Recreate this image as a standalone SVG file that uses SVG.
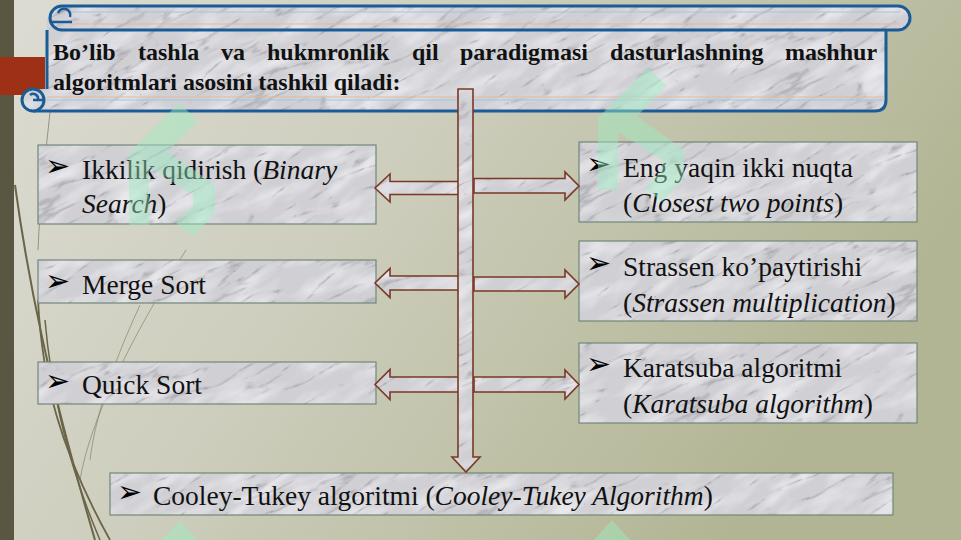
<svg xmlns="http://www.w3.org/2000/svg" width="961" height="540" viewBox="0 0 961 540">
<defs>
<linearGradient id="bg" x1="0" y1="0" x2="1" y2="0.4">
<stop offset="0" stop-color="#dcdcd3"/>
<stop offset="0.45" stop-color="#cdcebd"/>
<stop offset="1" stop-color="#b2b593"/>
</linearGradient>
<filter id="mf" x="0" y="0" width="240" height="240" filterUnits="userSpaceOnUse" color-interpolation-filters="sRGB">
<feTurbulence type="fractalNoise" baseFrequency="0.02 0.06" numOctaves="3" seed="11" stitchTiles="stitch" result="f"/>
<feColorMatrix in="f" type="matrix" values="0 0 0 0 0.97  0 0 0 0 0.97  0 0 0 0 0.98  1.4 0 0 0 -0.55" result="fv"/>
<feComposite in="fv" in2="SourceGraphic" operator="in" result="fvi"/>
<feTurbulence type="turbulence" baseFrequency="0.0125 0.05" numOctaves="4" seed="5" stitchTiles="stitch" result="t"/>
<feColorMatrix in="t" type="matrix" values="0 0 0 0 0.45  0 0 0 0 0.45  0 0 0 0 0.48  -2.6 0 0 0 0.45" result="v"/>
<feComposite in="v" in2="SourceGraphic" operator="in" result="vi"/>
<feMerge><feMergeNode in="SourceGraphic"/><feMergeNode in="fvi"/><feMergeNode in="vi"/></feMerge>
</filter>
<pattern id="marble" patternUnits="userSpaceOnUse" width="240" height="240" patternTransform="rotate(-28)">
<rect width="240" height="240" fill="#cfcfd4" filter="url(#mf)"/>
</pattern>
<g id="logo">
<polygon points="598,118 648,68 667,86 618,135 618,190 598,190"/>
<polygon points="614,100 684,150 684,178 662,202 645,188 662,170 662,160 606,124"/>
</g>
<style>
.box{fill:url(#marble);stroke:#71877a;stroke-width:1.2}
.arr{fill:url(#marble);stroke:#7a3926;stroke-width:1.6;stroke-linejoin:miter}
.t{font-family:"Liberation Serif","Times New Roman",serif;font-size:27.5px;fill:#111}
.i{font-style:italic}
.bul{font-family:"DejaVu Sans",sans-serif;font-size:30px;fill:#000}
.ttl{font-family:"Liberation Serif","Times New Roman",serif;font-size:24px;font-weight:bold;fill:#111}
.deco{fill:none;stroke:#6b6548}
.mint{fill:#9eeec0;opacity:0.45}
</style>
</defs>
<rect width="961" height="540" fill="url(#bg)"/>
<rect x="0" y="0" width="14" height="540" fill="#5b5641"/>
<rect x="0" y="57" width="45" height="38" fill="#9e3115"/>
<g id="decoration">
<path class="deco" stroke-width="2" d="M15,185 C28,280 48,380 95,540"/>
<path class="deco" stroke-width="1.8" d="M38,300 C42,380 60,450 110,540"/>
<path class="deco" stroke-width="1.5" d="M45,320 C52,400 70,470 100,540"/>
<path class="deco" stroke-width="1" opacity="0.6" d="M50,112 C45,160 40,200 38,250"/>
<path class="deco" stroke-width="1" opacity="0.5" d="M186,250 C130,340 90,420 80,480"/>
<path class="deco" stroke-width="1" opacity="0.5" d="M140,305 C110,370 95,420 90,460"/>
</g>
<g id="banner">
<path d="M47,18 H886 V100 Q886,111 875,111 H33 A11,11 0 0 1 22,100 A11,11 0 0 1 33,89 H47 Z" fill="url(#marble)" stroke="none"/>
<path d="M47,30 V89 M886,30 V100 Q886,111 875,111 H33" fill="none" stroke="#1b5c96" stroke-width="3"/>
<circle cx="33" cy="100" r="11" fill="url(#marble)" stroke="#1b5c96" stroke-width="3"/>
<path d="M33,100 H44 M30,95 A5,5 0 0 1 38,100" fill="none" stroke="#1b5c96" stroke-width="2.5"/>
<line x1="47" y1="97" x2="884" y2="97" stroke="#e3b9a2" stroke-width="1.2"/>
<line x1="47" y1="100" x2="884" y2="100" stroke="#9fc6df" stroke-width="1.2"/>
<rect x="50" y="6" width="860" height="24" rx="12" fill="url(#marble)" stroke="#1b5c96" stroke-width="3"/>
<line x1="70" y1="12" x2="900" y2="12" stroke="#9fc6df" stroke-width="1"/>
<line x1="70" y1="24" x2="900" y2="24" stroke="#e3b9a2" stroke-width="1"/>
<path d="M52,22 H72 M58,13 A6,6 0 0 1 70,17" fill="none" stroke="#1b5c96" stroke-width="2.5"/>
<text class="ttl" y="60"><tspan x="53">Bo’lib</tspan><tspan x="138">tashla</tspan><tspan x="221">va</tspan><tspan x="267">hukmronlik</tspan><tspan x="412">qil</tspan><tspan x="460">paradigmasi</tspan><tspan x="610">dasturlashning</tspan><tspan x="785">mashhur</tspan></text>
<text class="ttl" x="53" y="90">algoritmlari asosini tashkil qiladi:</text>
</g>
<g id="node-binary">
<rect class="box" x="38" y="145" width="338" height="79"/>
<text class="bul" x="45" y="176">➢</text>
<text class="t" x="82" y="179">Ikkilik qidirish (<tspan class="i">Binary</tspan></text>
<text class="t" x="82" y="213"><tspan class="i">Search</tspan>)</text>
</g>
<g id="node-merge">
<rect class="box" x="38" y="260" width="338" height="43"/>
<text class="bul" x="45" y="291">➢</text>
<text class="t" x="82" y="294">Merge Sort</text>
</g>
<g id="node-quick">
<rect class="box" x="38" y="362" width="338" height="42"/>
<text class="bul" x="45" y="391">➢</text>
<text class="t" x="82" y="394">Quick Sort</text>
</g>
<g id="node-closest">
<rect class="box" x="579" y="142" width="338" height="80"/>
<text class="bul" x="586" y="174">➢</text>
<text class="t" x="623" y="177">Eng yaqin ikki nuqta</text>
<text class="t" x="623" y="212">(<tspan class="i">Closest two points</tspan>)</text>
</g>
<g id="node-strassen">
<rect class="box" x="579" y="241" width="338" height="80"/>
<text class="bul" x="586" y="273">➢</text>
<text class="t" x="623" y="276">Strassen ko’paytirishi</text>
<text class="t" x="623" y="312">(<tspan class="i">Strassen multiplication</tspan>)</text>
</g>
<g id="node-karatsuba">
<rect class="box" x="579" y="343" width="338" height="80"/>
<text class="bul" x="586" y="374">➢</text>
<text class="t" x="623" y="377">Karatsuba algoritmi</text>
<text class="t" x="623" y="413">(<tspan class="i">Karatsuba algorithm</tspan>)</text>
</g>
<g id="node-cooley">
<rect class="box" x="110" y="473" width="783" height="42"/>
<text class="bul" x="117" y="502">➢</text>
<text class="t" x="153" y="505">Cooley-Tukey algoritmi (<tspan class="i">Cooley-Tukey Algorithm</tspan>)</text>
</g>
<g id="connectors">
<polygon class="arr" points="459,181.5 390,181.5 390,174 375,188 390,202 390,194.5 459,194.5"/>
<polygon class="arr" points="459,276 390,276 390,268.5 375,283 390,297.5 390,290 459,290"/>
<polygon class="arr" points="459,377 390,377 390,369.5 375,384.5 390,399.5 390,392 459,392"/>
<polygon class="arr" points="474,178.5 565,178.5 565,172 579,186 565,200 565,193 474,193"/>
<polygon class="arr" points="474,277 565,277 565,270 579,284 565,298 565,291 474,291"/>
<polygon class="arr" points="474,377 565,377 565,370 579,384.5 565,399 565,392 474,392"/>
<polygon class="arr" points="458,89 473,89 473,457 480,457 466,472 452,457 458,457"/>
</g>
<g id="watermark" class="mint">
<use href="#logo"/>
<use href="#logo" transform="translate(-469,35)"/>
<polygon points="180,520 198,540 162,540"/>
<polygon points="612,520 630,540 594,540"/>
</g>
</svg>
